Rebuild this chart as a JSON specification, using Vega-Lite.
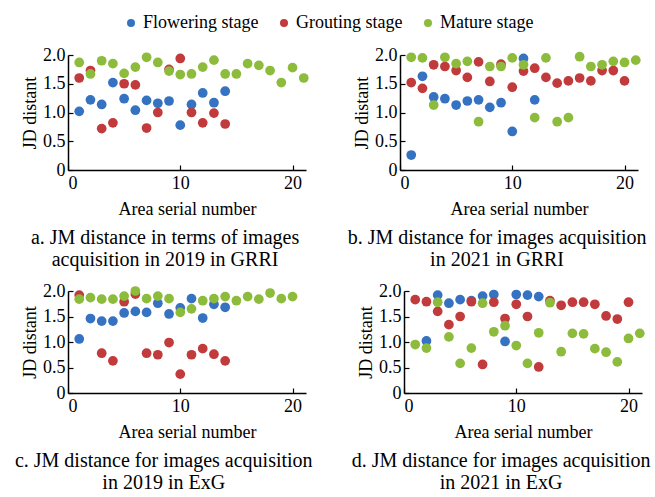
{
  "$schema": "https://vega.github.io/schema/vega-lite/v6.json",
  "padding": {"left": 14, "top": 14, "right": 0, "bottom": 0},
  "background": "white",
  "config": {
    "view": {"stroke": null},
    "font": "Liberation Serif",
    "style": {"guide-label": {"font": "Liberation Serif"}, "guide-title": {"font": "Liberation Serif"}, "group-title": {"font": "Liberation Serif"}},
    "axis": {"grid": false, "domainColor": "black", "tickColor": "black", "labelColor": "black", "titleColor": "black", "labelFont": "Liberation Serif", "titleFont": "Liberation Serif", "labelFontSize": 18, "titleFontSize": 18, "titleFontWeight": "normal", "tickSize": -5, "labelPadding": 8, "domainWidth": 1.5, "tickWidth": 1.2, "titlePadding": 3},
    "axisX": {"labelPadding": 9, "titlePadding": 8},
    "title": {"font": "Liberation Serif", "fontSize": 20, "fontWeight": "normal", "color": "black", "orient": "bottom", "anchor": "middle", "frame": "bounds", "lineHeight": 22, "offset": 10},
    "legend": {"labelFont": "Liberation Serif", "labelFontSize": 18, "labelColor": "black"}
  },
  "datasets": {
    "pts": [
      {"panel":"a","stage":"Flowering stage","x":1,"y":1.02},{"panel":"a","stage":"Flowering stage","x":2,"y":1.22},{"panel":"a","stage":"Flowering stage","x":3,"y":1.14},{"panel":"a","stage":"Flowering stage","x":4,"y":1.52},{"panel":"a","stage":"Flowering stage","x":5,"y":1.24},{"panel":"a","stage":"Flowering stage","x":6,"y":1.04},{"panel":"a","stage":"Flowering stage","x":7,"y":1.21},{"panel":"a","stage":"Flowering stage","x":8,"y":1.16},{"panel":"a","stage":"Flowering stage","x":9,"y":1.2},{"panel":"a","stage":"Flowering stage","x":10,"y":0.78},{"panel":"a","stage":"Flowering stage","x":11,"y":1.14},{"panel":"a","stage":"Flowering stage","x":12,"y":1.34},{"panel":"a","stage":"Flowering stage","x":13,"y":1.17},{"panel":"a","stage":"Flowering stage","x":14,"y":1.37},
      {"panel":"a","stage":"Grouting stage","x":1,"y":1.6},{"panel":"a","stage":"Grouting stage","x":2,"y":1.73},{"panel":"a","stage":"Grouting stage","x":3,"y":0.72},{"panel":"a","stage":"Grouting stage","x":4,"y":0.82},{"panel":"a","stage":"Grouting stage","x":5,"y":1.5},{"panel":"a","stage":"Grouting stage","x":6,"y":1.48},{"panel":"a","stage":"Grouting stage","x":7,"y":0.73},{"panel":"a","stage":"Grouting stage","x":8,"y":1.0},{"panel":"a","stage":"Grouting stage","x":9,"y":1.75},{"panel":"a","stage":"Grouting stage","x":10,"y":1.94},{"panel":"a","stage":"Grouting stage","x":11,"y":1.0},{"panel":"a","stage":"Grouting stage","x":12,"y":0.82},{"panel":"a","stage":"Grouting stage","x":13,"y":0.99},{"panel":"a","stage":"Grouting stage","x":14,"y":0.8},
      {"panel":"a","stage":"Mature stage","x":1,"y":1.87},{"panel":"a","stage":"Mature stage","x":2,"y":1.67},{"panel":"a","stage":"Mature stage","x":3,"y":1.9},{"panel":"a","stage":"Mature stage","x":4,"y":1.85},{"panel":"a","stage":"Mature stage","x":5,"y":1.68},{"panel":"a","stage":"Mature stage","x":6,"y":1.79},{"panel":"a","stage":"Mature stage","x":7,"y":1.96},{"panel":"a","stage":"Mature stage","x":8,"y":1.87},{"panel":"a","stage":"Mature stage","x":9,"y":1.72},{"panel":"a","stage":"Mature stage","x":10,"y":1.66},{"panel":"a","stage":"Mature stage","x":11,"y":1.67},{"panel":"a","stage":"Mature stage","x":12,"y":1.79},{"panel":"a","stage":"Mature stage","x":13,"y":1.91},{"panel":"a","stage":"Mature stage","x":14,"y":1.67},{"panel":"a","stage":"Mature stage","x":15,"y":1.67},{"panel":"a","stage":"Mature stage","x":16,"y":1.85},{"panel":"a","stage":"Mature stage","x":17,"y":1.82},{"panel":"a","stage":"Mature stage","x":18,"y":1.73},{"panel":"a","stage":"Mature stage","x":19,"y":1.52},{"panel":"a","stage":"Mature stage","x":20,"y":1.78},{"panel":"a","stage":"Mature stage","x":21,"y":1.6},

      {"panel":"b","stage":"Flowering stage","x":1,"y":0.26},{"panel":"b","stage":"Flowering stage","x":2,"y":1.63},{"panel":"b","stage":"Flowering stage","x":3,"y":1.27},{"panel":"b","stage":"Flowering stage","x":4,"y":1.24},{"panel":"b","stage":"Flowering stage","x":5,"y":1.13},{"panel":"b","stage":"Flowering stage","x":6,"y":1.2},{"panel":"b","stage":"Flowering stage","x":7,"y":1.22},{"panel":"b","stage":"Flowering stage","x":8,"y":1.09},{"panel":"b","stage":"Flowering stage","x":9,"y":1.17},{"panel":"b","stage":"Flowering stage","x":10,"y":0.67},{"panel":"b","stage":"Flowering stage","x":11,"y":1.94},{"panel":"b","stage":"Flowering stage","x":12,"y":1.22},
      {"panel":"b","stage":"Grouting stage","x":1,"y":1.52},{"panel":"b","stage":"Grouting stage","x":2,"y":1.42},{"panel":"b","stage":"Grouting stage","x":3,"y":1.83},{"panel":"b","stage":"Grouting stage","x":4,"y":1.8},{"panel":"b","stage":"Grouting stage","x":5,"y":1.73},{"panel":"b","stage":"Grouting stage","x":6,"y":1.61},{"panel":"b","stage":"Grouting stage","x":7,"y":1.88},{"panel":"b","stage":"Grouting stage","x":8,"y":1.54},{"panel":"b","stage":"Grouting stage","x":9,"y":1.84},{"panel":"b","stage":"Grouting stage","x":10,"y":1.44},{"panel":"b","stage":"Grouting stage","x":11,"y":1.72},{"panel":"b","stage":"Grouting stage","x":12,"y":1.77},{"panel":"b","stage":"Grouting stage","x":13,"y":1.61},{"panel":"b","stage":"Grouting stage","x":14,"y":1.51},{"panel":"b","stage":"Grouting stage","x":15,"y":1.55},{"panel":"b","stage":"Grouting stage","x":16,"y":1.6},{"panel":"b","stage":"Grouting stage","x":17,"y":1.55},{"panel":"b","stage":"Grouting stage","x":18,"y":1.73},{"panel":"b","stage":"Grouting stage","x":19,"y":1.73},{"panel":"b","stage":"Grouting stage","x":20,"y":1.55},
      {"panel":"b","stage":"Mature stage","x":1,"y":1.96},{"panel":"b","stage":"Mature stage","x":2,"y":1.95},{"panel":"b","stage":"Mature stage","x":3,"y":1.13},{"panel":"b","stage":"Mature stage","x":4,"y":1.96},{"panel":"b","stage":"Mature stage","x":5,"y":1.85},{"panel":"b","stage":"Mature stage","x":6,"y":1.89},{"panel":"b","stage":"Mature stage","x":7,"y":0.84},{"panel":"b","stage":"Mature stage","x":8,"y":1.8},{"panel":"b","stage":"Mature stage","x":9,"y":1.8},{"panel":"b","stage":"Mature stage","x":10,"y":1.95},{"panel":"b","stage":"Mature stage","x":11,"y":1.83},{"panel":"b","stage":"Mature stage","x":12,"y":0.91},{"panel":"b","stage":"Mature stage","x":13,"y":1.95},{"panel":"b","stage":"Mature stage","x":14,"y":0.84},{"panel":"b","stage":"Mature stage","x":15,"y":0.91},{"panel":"b","stage":"Mature stage","x":16,"y":1.97},{"panel":"b","stage":"Mature stage","x":17,"y":1.8},{"panel":"b","stage":"Mature stage","x":18,"y":1.83},{"panel":"b","stage":"Mature stage","x":19,"y":1.89},{"panel":"b","stage":"Mature stage","x":20,"y":1.87},{"panel":"b","stage":"Mature stage","x":21,"y":1.91},

      {"panel":"c","stage":"Flowering stage","x":1,"y":1.06},{"panel":"c","stage":"Flowering stage","x":2,"y":1.46},{"panel":"c","stage":"Flowering stage","x":3,"y":1.41},{"panel":"c","stage":"Flowering stage","x":4,"y":1.41},{"panel":"c","stage":"Flowering stage","x":5,"y":1.57},{"panel":"c","stage":"Flowering stage","x":6,"y":1.6},{"panel":"c","stage":"Flowering stage","x":7,"y":1.58},{"panel":"c","stage":"Flowering stage","x":8,"y":1.76},{"panel":"c","stage":"Flowering stage","x":9,"y":1.55},{"panel":"c","stage":"Flowering stage","x":10,"y":1.67},{"panel":"c","stage":"Flowering stage","x":11,"y":1.85},{"panel":"c","stage":"Flowering stage","x":12,"y":1.47},{"panel":"c","stage":"Flowering stage","x":13,"y":1.74},{"panel":"c","stage":"Flowering stage","x":14,"y":1.68},
      {"panel":"c","stage":"Grouting stage","x":1,"y":1.92},{"panel":"c","stage":"Grouting stage","x":3,"y":0.78},{"panel":"c","stage":"Grouting stage","x":4,"y":0.63},{"panel":"c","stage":"Grouting stage","x":5,"y":1.79},{"panel":"c","stage":"Grouting stage","x":6,"y":1.94},{"panel":"c","stage":"Grouting stage","x":7,"y":0.78},{"panel":"c","stage":"Grouting stage","x":8,"y":0.75},{"panel":"c","stage":"Grouting stage","x":9,"y":0.99},{"panel":"c","stage":"Grouting stage","x":10,"y":0.37},{"panel":"c","stage":"Grouting stage","x":11,"y":0.75},{"panel":"c","stage":"Grouting stage","x":12,"y":0.87},{"panel":"c","stage":"Grouting stage","x":13,"y":0.76},{"panel":"c","stage":"Grouting stage","x":14,"y":0.63},
      {"panel":"c","stage":"Mature stage","x":1,"y":1.84},{"panel":"c","stage":"Mature stage","x":2,"y":1.87},{"panel":"c","stage":"Mature stage","x":3,"y":1.84},{"panel":"c","stage":"Mature stage","x":4,"y":1.84},{"panel":"c","stage":"Mature stage","x":5,"y":1.9},{"panel":"c","stage":"Mature stage","x":6,"y":2.0},{"panel":"c","stage":"Mature stage","x":7,"y":1.85},{"panel":"c","stage":"Mature stage","x":8,"y":1.9},{"panel":"c","stage":"Mature stage","x":9,"y":1.85},{"panel":"c","stage":"Mature stage","x":10,"y":1.58},{"panel":"c","stage":"Mature stage","x":11,"y":1.65},{"panel":"c","stage":"Mature stage","x":12,"y":1.81},{"panel":"c","stage":"Mature stage","x":13,"y":1.85},{"panel":"c","stage":"Mature stage","x":14,"y":1.89},{"panel":"c","stage":"Mature stage","x":15,"y":1.81},{"panel":"c","stage":"Mature stage","x":16,"y":1.89},{"panel":"c","stage":"Mature stage","x":17,"y":1.84},{"panel":"c","stage":"Mature stage","x":18,"y":1.96},{"panel":"c","stage":"Mature stage","x":19,"y":1.85},{"panel":"c","stage":"Mature stage","x":20,"y":1.89},

      {"panel":"d","stage":"Flowering stage","x":2,"y":1.02},{"panel":"d","stage":"Flowering stage","x":3,"y":1.92},{"panel":"d","stage":"Flowering stage","x":4,"y":1.76},{"panel":"d","stage":"Flowering stage","x":5,"y":1.83},{"panel":"d","stage":"Flowering stage","x":6,"y":1.81},{"panel":"d","stage":"Flowering stage","x":7,"y":1.9},{"panel":"d","stage":"Flowering stage","x":8,"y":1.93},{"panel":"d","stage":"Flowering stage","x":9,"y":1.01},{"panel":"d","stage":"Flowering stage","x":10,"y":1.93},{"panel":"d","stage":"Flowering stage","x":11,"y":1.92},{"panel":"d","stage":"Flowering stage","x":12,"y":1.89},
      {"panel":"d","stage":"Grouting stage","x":1,"y":1.83},{"panel":"d","stage":"Grouting stage","x":2,"y":1.79},{"panel":"d","stage":"Grouting stage","x":3,"y":1.6},{"panel":"d","stage":"Grouting stage","x":4,"y":1.34},{"panel":"d","stage":"Grouting stage","x":5,"y":1.5},{"panel":"d","stage":"Grouting stage","x":6,"y":1.79},{"panel":"d","stage":"Grouting stage","x":7,"y":0.56},{"panel":"d","stage":"Grouting stage","x":8,"y":1.78},{"panel":"d","stage":"Grouting stage","x":9,"y":1.46},{"panel":"d","stage":"Grouting stage","x":10,"y":1.74},{"panel":"d","stage":"Grouting stage","x":11,"y":1.5},{"panel":"d","stage":"Grouting stage","x":12,"y":0.51},{"panel":"d","stage":"Grouting stage","x":13,"y":1.81},{"panel":"d","stage":"Grouting stage","x":14,"y":1.72},{"panel":"d","stage":"Grouting stage","x":15,"y":1.78},{"panel":"d","stage":"Grouting stage","x":16,"y":1.78},{"panel":"d","stage":"Grouting stage","x":17,"y":1.74},{"panel":"d","stage":"Grouting stage","x":18,"y":1.51},{"panel":"d","stage":"Grouting stage","x":19,"y":1.45},{"panel":"d","stage":"Grouting stage","x":20,"y":1.78},
      {"panel":"d","stage":"Mature stage","x":1,"y":0.95},{"panel":"d","stage":"Mature stage","x":2,"y":0.88},{"panel":"d","stage":"Mature stage","x":3,"y":1.78},{"panel":"d","stage":"Mature stage","x":4,"y":1.1},{"panel":"d","stage":"Mature stage","x":5,"y":0.58},{"panel":"d","stage":"Mature stage","x":6,"y":0.88},{"panel":"d","stage":"Mature stage","x":7,"y":1.76},{"panel":"d","stage":"Mature stage","x":8,"y":1.2},{"panel":"d","stage":"Mature stage","x":9,"y":1.32},{"panel":"d","stage":"Mature stage","x":10,"y":0.93},{"panel":"d","stage":"Mature stage","x":11,"y":0.58},{"panel":"d","stage":"Mature stage","x":12,"y":1.18},{"panel":"d","stage":"Mature stage","x":13,"y":1.77},{"panel":"d","stage":"Mature stage","x":14,"y":0.81},{"panel":"d","stage":"Mature stage","x":15,"y":1.17},{"panel":"d","stage":"Mature stage","x":16,"y":1.16},{"panel":"d","stage":"Mature stage","x":17,"y":0.87},{"panel":"d","stage":"Mature stage","x":18,"y":0.8},{"panel":"d","stage":"Mature stage","x":19,"y":0.61},{"panel":"d","stage":"Mature stage","x":20,"y":1.07},{"panel":"d","stage":"Mature stage","x":21,"y":1.17}
    ]
  },
  "resolve": {"legend": {"color": "independent"}},
  "spacing": 12,
  "vconcat": [
    {
      "spacing": 38,
      "hconcat": [
        {
          "data": {"name": "pts"},
          "transform": [{"filter": "datum.panel == 'a'"}],
          "width": 238, "height": 115,
          "title": {"text": ["a. JM distance in terms of images", "acquisition in 2019 in GRRI"]},
          "mark": {"type": "point", "filled": true, "opacity": 1, "size": 95},
          "encoding": {
            "x": {"field": "x", "type": "quantitative", "scale": {"domain": [0, 21.2], "nice": false}, "axis": {"values": [0, 10, 20], "title": "Area serial number"}},
            "y": {"field": "y", "type": "quantitative", "scale": {"domain": [0, 2], "nice": false}, "axis": {"values": [0, 0.5, 1, 1.5, 2], "labelExpr": "datum.value == 0 ? '0' : format(datum.value, '.1f')", "title": "JD distant"}},
            "color": {"field": "stage", "type": "nominal", "scale": {"domain": ["Flowering stage", "Grouting stage", "Mature stage"], "range": ["#3572c2", "#c13a3c", "#8dbb3c"]}, "legend": {"title": null, "orient": "none", "direction": "horizontal", "legendX": 54, "legendY": -41, "symbolType": "circle", "symbolSize": 64, "columnPadding": 16, "labelOffset": 3, "labelFont": "Liberation Serif", "labelFontSize": 18}}
          }
        },
        {
          "data": {"name": "pts"},
          "transform": [{"filter": "datum.panel == 'b'"}],
          "width": 238, "height": 115,
          "title": {"text": ["b. JM distance for images acquisition", "in 2021 in GRRI"]},
          "mark": {"type": "point", "filled": true, "opacity": 1, "size": 95},
          "encoding": {
            "x": {"field": "x", "type": "quantitative", "scale": {"domain": [0, 21.2], "nice": false}, "axis": {"values": [0, 10, 20], "title": "Area serial number"}},
            "y": {"field": "y", "type": "quantitative", "scale": {"domain": [0, 2], "nice": false}, "axis": {"values": [0, 0.5, 1, 1.5, 2], "labelExpr": "datum.value == 0 ? '0' : format(datum.value, '.1f')", "title": "JD distant"}},
            "color": {"field": "stage", "type": "nominal", "scale": {"domain": ["Flowering stage", "Grouting stage", "Mature stage"], "range": ["#3572c2", "#c13a3c", "#8dbb3c"]}, "legend": null}
          }
        }
      ]
    },
    {
      "spacing": 38,
      "hconcat": [
        {
          "data": {"name": "pts"},
          "transform": [{"filter": "datum.panel == 'c'"}],
          "width": 238, "height": 102,
          "title": {"text": ["c. JM distance for images acquisition", "in 2019 in ExG"]},
          "mark": {"type": "point", "filled": true, "opacity": 1, "size": 95},
          "encoding": {
            "x": {"field": "x", "type": "quantitative", "scale": {"domain": [0, 21.2], "nice": false}, "axis": {"values": [0, 10, 20], "title": "Area serial number"}},
            "y": {"field": "y", "type": "quantitative", "scale": {"domain": [0, 2], "nice": false}, "axis": {"values": [0, 0.5, 1, 1.5, 2], "labelExpr": "datum.value == 0 ? '0' : format(datum.value, '.1f')", "title": "JD distant"}},
            "color": {"field": "stage", "type": "nominal", "scale": {"domain": ["Flowering stage", "Grouting stage", "Mature stage"], "range": ["#3572c2", "#c13a3c", "#8dbb3c"]}, "legend": null}
          }
        },
        {
          "data": {"name": "pts"},
          "transform": [{"filter": "datum.panel == 'd'"}],
          "width": 238, "height": 102,
          "title": {"text": ["d. JM distance for images acquisition", "in 2021 in ExG"]},
          "mark": {"type": "point", "filled": true, "opacity": 1, "size": 95},
          "encoding": {
            "x": {"field": "x", "type": "quantitative", "scale": {"domain": [0, 21.2], "nice": false}, "axis": {"values": [0, 10, 20], "title": "Area serial number"}},
            "y": {"field": "y", "type": "quantitative", "scale": {"domain": [0, 2], "nice": false}, "axis": {"values": [0, 0.5, 1, 1.5, 2], "labelExpr": "datum.value == 0 ? '0' : format(datum.value, '.1f')", "title": "JD distant"}},
            "color": {"field": "stage", "type": "nominal", "scale": {"domain": ["Flowering stage", "Grouting stage", "Mature stage"], "range": ["#3572c2", "#c13a3c", "#8dbb3c"]}, "legend": null}
          }
        }
      ]
    }
  ]
}
